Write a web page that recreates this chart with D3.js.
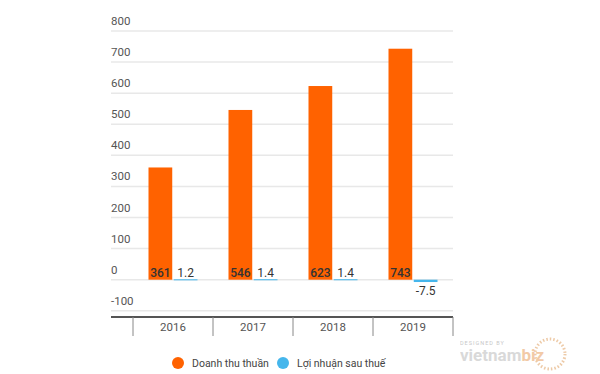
<!DOCTYPE html>
<html>
<head>
<meta charset="utf-8">
<script src="https://cdn.jsdelivr.net/npm/d3@7"></script>
<style>
  body { margin: 0; background: #fff; }
  svg text { font-family: Roboto, "Noto Sans", sans-serif; }
</style>
</head>
<body>
<div id="chart"></div>
<script>
// revenue vs. profit after tax, 2016-2019
var years = ["2016", "2017", "2018", "2019"],
    seriesNames = ["Doanh thu thuần", "Lợi nhuận sau thuế"],
    revenue = [361, 546, 623, 743],
    profit = [1.2, 1.4, 1.4, -7.5],
    yTicks = [-100, 0, 100, 200, 300, 400, 500, 600, 700, 800],
    colors = ["#ff6200", "#45b6ec"];

var width = 600, height = 374;

var svg = d3.select("#chart").append("svg")
  .attr("width", width)
  .attr("height", height);

var yScale = d3.scaleLinear().domain([-120, 800]).range([317, 31]);
var xScale = d3.scaleBand().domain(years).range([133, 453]);
var xInner = d3.scaleBand().domain(seriesNames).range([-24.5, 24.5]).paddingInner(0.06);

// gridlines + tick labels (labels sit above the line)
svg.append("g").selectAll("line")
  .data(yTicks)
  .join("line")
  .attr("x1", 111).attr("x2", 453)
  .attr("y1", d => yScale(d)).attr("y2", d => yScale(d))
  .attr("stroke", "#e8e8e8")
  .attr("stroke-width", 1.5);

svg.append("g").selectAll("text")
  .data(yTicks)
  .join("text")
  .attr("x", 111)
  .attr("y", d => yScale(d) - 6)
  .attr("font-size", 11.5)
  .attr("fill", "#555")
  .text(d => d);

// bars
var rows = years.map((y, i) => ({year: y, vals: [revenue[i], profit[i]]}));

var groups = svg.append("g").selectAll("g")
  .data(rows)
  .join("g")
  .attr("transform", d => "translate(" + (xScale(d.year) + xScale.bandwidth() / 2) + ",0)");

groups.selectAll("rect")
  .data(d => d.vals.map((v, j) => ({v: v, s: seriesNames[j], j: j})))
  .join("rect")
  .attr("x", d => xInner(d.s))
  .attr("width", xInner.bandwidth())
  .attr("y", d => yScale(Math.max(0, d.v)))
  .attr("height", d => Math.max(1, Math.abs(yScale(d.v) - yScale(0))))
  .attr("fill", d => colors[d.j]);

// value labels
groups.selectAll("text")
  .data(d => d.vals.map((v, j) => ({v: v, s: seriesNames[j], j: j})))
  .join("text")
  .attr("x", d => xInner(d.s) + xInner.bandwidth() / 2)
  .attr("y", d => d.v < 0 ? yScale(d.v) + 13 : yScale(0) - 3)
  .attr("text-anchor", "middle")
  .attr("font-size", 12)
  .attr("font-weight", d => d.j === 0 ? 500 : 400)
  .attr("fill", "#333")
  .text(d => d.v);

// bottom axis
svg.append("line")
  .attr("x1", 111).attr("x2", 453)
  .attr("y1", 317).attr("y2", 317)
  .attr("stroke", "#555").attr("stroke-width", 2);

var sepX = years.map(y => xScale(y)).concat([xScale.range()[1]]);
svg.append("g").selectAll("line")
  .data(sepX)
  .join("line")
  .attr("x1", d => d).attr("x2", d => d)
  .attr("y1", 317).attr("y2", 336)
  .attr("stroke", "#888").attr("stroke-width", 1);

svg.append("g").selectAll("text")
  .data(years)
  .join("text")
  .attr("x", d => xScale(d) + xScale.bandwidth() / 2)
  .attr("y", 330.5)
  .attr("text-anchor", "middle")
  .attr("font-size", 11.5)
  .attr("fill", "#555")
  .text(d => d);

// legend
var legendX = [178, 283];
var leg = svg.append("g").selectAll("g")
  .data(seriesNames)
  .join("g")
  .attr("transform", (d, i) => "translate(" + legendX[i] + ",363)");
leg.append("circle").attr("r", 6).attr("fill", (d, i) => colors[i]);
leg.append("text")
  .attr("x", 14).attr("y", 4)
  .attr("font-size", 10.5)
  .attr("fill", "#444")
  .text(d => d);

// watermark
var wm = svg.append("g").attr("opacity", 0.55);
wm.append("circle")
  .attr("cx", 550).attr("cy", 354).attr("r", 15)
  .attr("fill", "none").attr("stroke", "#e0a060")
  .attr("stroke-width", 3).attr("stroke-dasharray", "1.5,2");
wm.append("text")
  .attr("x", 460).attr("y", 345)
  .attr("font-size", 5.5).attr("fill", "#999")
  .attr("letter-spacing", 1)
  .text("DESIGNED BY");
var wt = wm.append("text")
  .attr("x", 460).attr("y", 361)
  .attr("font-size", 17).attr("font-weight", 700)
  .attr("fill", "#bbb");
wt.append("tspan").text("vietnam");
wt.append("tspan").attr("fill", "#e8a060").text("biz");
</script>
</body>
</html>
